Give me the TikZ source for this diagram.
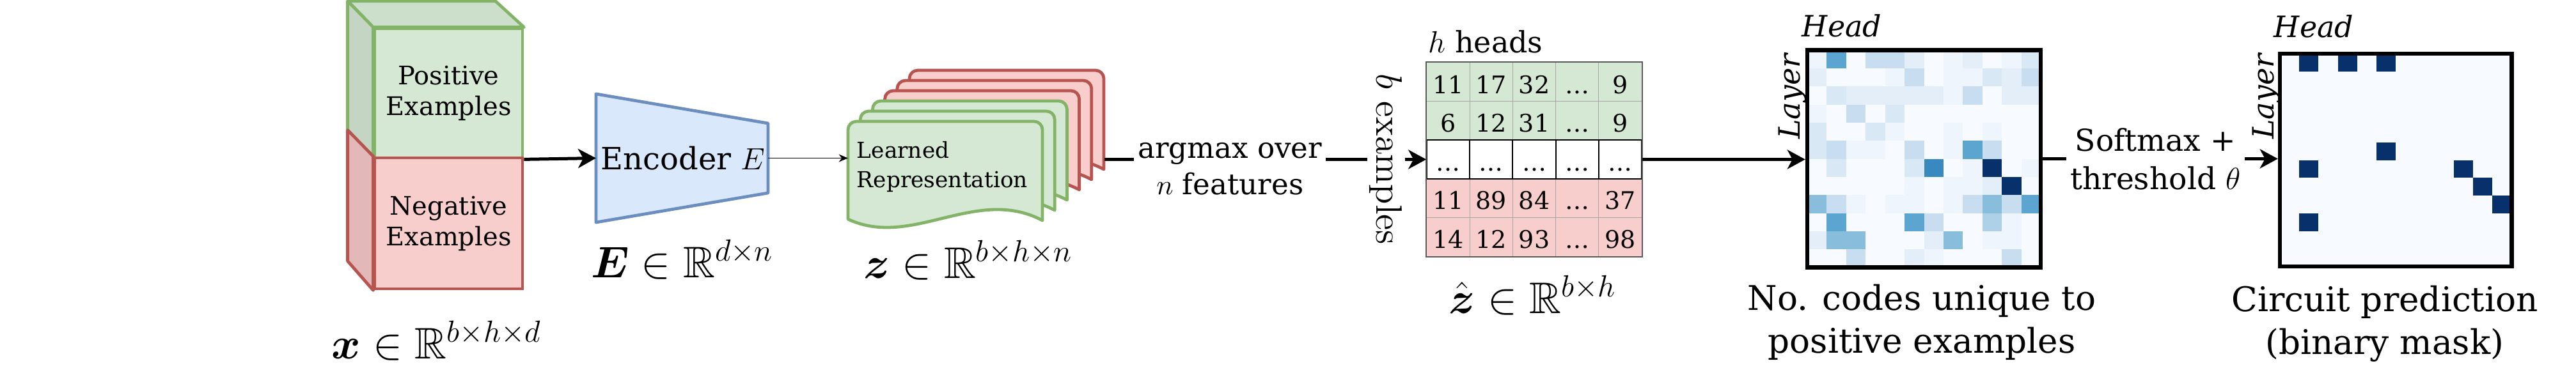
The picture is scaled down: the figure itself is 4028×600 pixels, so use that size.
\documentclass[tikz,border=0pt]{standalone}
\usepackage{amsmath,amssymb}
\usepackage{fontspec}
\usetikzlibrary{arrows.meta, positioning}
\newfontfamily\dvs{DejaVu Serif}
\definecolor{gfill}{HTML}{D5E8D4}
\definecolor{gdraw}{HTML}{82B366}
\definecolor{gside}{HTML}{C4D6C3}
\definecolor{gtop}{HTML}{CCDFCB}
\definecolor{rfill}{HTML}{F8CECC}
\definecolor{rdraw}{HTML}{B85450}
\definecolor{rside}{HTML}{E2B9B8}
\definecolor{efill}{HTML}{DAE8FC}
\definecolor{edraw}{HTML}{6C8EBF}
% Blues levels for the heat map
\definecolor{hb0}{HTML}{F7FBFF}
\definecolor{hb1}{HTML}{EEF5FC}
\definecolor{hb2}{HTML}{E3EEF9}
\definecolor{hb3}{HTML}{D9E8F5}
\definecolor{hb4}{HTML}{C9DDF0}
\definecolor{hb5}{HTML}{AED1E7}
\definecolor{hb6}{HTML}{88BEDC}
\definecolor{hb7}{HTML}{5DA5D1}
\definecolor{hb8}{HTML}{3989C1}
\definecolor{hb9}{HTML}{08306B}
\tikzset{
  face/.style = {rectangle, line width=1.2pt, inner sep=0pt, align=center,
    font=\dvs\fontsize{10}{12}\selectfont},
  sideface/.style = {line width=1.2pt, line join=round},
  card/.style = {line width=1.2pt, line join=round},
  thickline/.style = {line width=1.25pt},
  thickarrow/.style = {line width=1.25pt,
    -{Stealth[length=7pt, width=7.5pt, inset=2pt]}},
  thinarrow/.style = {line width=0.3pt, -{Stealth[length=3.6pt, width=3pt]}},
  mathlbl/.style = {anchor=base, inner sep=0pt,
    font=\fontsize{17.28}{20}\selectfont},
  edgetxt/.style = {fill=white, inner sep=1.5pt, align=center,
    font=\dvs\fontsize{11.3}{14.25}\selectfont},
  celltxt/.style = {anchor=base, inner sep=0pt,
    font=\dvs\fontsize{9.5}{11}\selectfont},
  gridline/.style = {draw=black!35, line width=0.3pt},
  mapbox/.style = {draw, line width=1.6pt, inner sep=0pt},
  italbl/.style = {anchor=base, inner sep=0pt,
    font=\dvs\itshape\fontsize{11.5}{13}\selectfont},
  bottxt/.style = {align=center, inner sep=0pt,
    font=\dvs\fontsize{13.3}{16.75}\selectfont}
}
\begin{document}
\begin{tikzpicture}[x=0.25pt, y=-0.25pt]
  \useasboundingbox (0,0) rectangle (4028,600);

  % input cube
  \node (pos) [face, fill=gfill, draw=gdraw, minimum width=57.75pt,
    minimum height=50.5pt] at (701.5,146) {Positive\\Examples};
  \node (neg) [face, fill=rfill, draw=rdraw, minimum width=57.75pt,
    minimum height=51.25pt] at (701.5,349.5) {Negative\\Examples};
  \filldraw[sideface, fill=gtop, draw=gdraw] (pos.north west) -- ++(-40,-41)
    -- ++(231,0) -- (pos.north east) -- cycle;
  \filldraw[sideface, fill=gside, draw=gdraw] (pos.north west) -- ++(-40,-41)
    -- ++(0,202) -- (pos.south west) -- cycle;
  \filldraw[sideface, fill=rside, draw=rdraw] (neg.north west) -- ++(-40,-41)
    -- ++(0,205) -- (neg.south west) -- cycle;
  \node (xlbl) [mathlbl] at (683,561)
    {$\boldsymbol{x} \in \mathbb{R}^{b\times h\times d}$};

  % encoder
  \filldraw[line width=1.2pt, fill=efill, draw=edraw, line join=round]
    (932,147) -- (1201,193) -- (1201,302) -- (932,348) -- cycle;
  \node (enc) [font=\dvs\fontsize{12}{14}\selectfont] at (1068,247.5)
    {Encoder $E$};
  \coordinate (encIn) at (932,247.5);
  \coordinate (encOut) at (1201,247.5);
  \node (elbl) [mathlbl] at (1067,434)
    {$\boldsymbol{E} \in \mathbb{R}^{d\times n}$};

  % stack of learned representations
  \foreach \i/\f/\d in {5/rfill/rdraw, 4/rfill/rdraw, 3/rfill/rdraw,
      2/gfill/gdraw, 1/gfill/gdraw, 0/gfill/gdraw} {
    \begin{scope}[shift={(1326+\i*19.2,190-\i*16)}]
      \filldraw[card, fill=\f, draw=\d] (0,153) -- (0,13)
        arc[start angle=180, end angle=270, radius=13] -- (291,0)
        arc[start angle=270, end angle=360, radius=13] -- (304,155)
        .. controls (200,100) and (100,200) .. (0,153) -- cycle;
    \end{scope}
  }
  \node (rep) [anchor=west, inner sep=0pt, align=left,
    font=\dvs\fontsize{8.6}{11.5}\selectfont] at (1339,261)
    {Learned\\Representation};
  \coordinate (repIn) at (1326,247.5);
  \coordinate (repOut) at (1727,249.5);
  \node (zlbl) [mathlbl] at (1514,435)
    {$\boldsymbol{z} \in \mathbb{R}^{b\times h\times n}$};

  % argmax table
  \node (mat) [rectangle, inner sep=0pt, minimum width=84pt,
    minimum height=75.75pt] at (2399,249.5) {};
  \fill[gfill] (2231,98) rectangle (2567,219.2);
  \fill[rfill] (2231,279.8) rectangle (2567,401);
  \foreach \x in {2298.2,2365.4,2432.6,2499.8} {
    \draw[gridline] (\x,98) -- (\x,219.2);
    \draw[gridline] (\x,279.8) -- (\x,401);
    \draw[line width=0.5pt] (\x,219.2) -- (\x,279.8);
  }
  \draw[gridline] (2231,158.6) -- (2567,158.6);
  \draw[gridline] (2231,340.4) -- (2567,340.4);
  \draw[line width=0.5pt] (2231,219.2) rectangle (2567,279.8);
  \draw[draw=black!65, line width=0.4pt] (mat.north west) rectangle (mat.south east);
  \foreach \y/\row in {146/{11,17,32,\ldots,9}, 206.6/{6,12,31,\ldots,9},
      267.2/{\ldots,\ldots,\ldots,\ldots,\ldots}, 327.8/{11,89,84,\ldots,37},
      388.4/{14,12,93,\ldots,98}} {
    \foreach \v [count=\c from 0] in \row
      \node [celltxt] at ({2264.6+\c*67.2},\y) {\v};
  }
  \node (heads) [anchor=base, inner sep=0pt,
    font=\dvs\fontsize{11.5}{14}\selectfont] at (2323,82) {$h$ heads};
  \node (zhlbl) [mathlbl] at (2397,490)
    {$\hat{\boldsymbol{z}} \in \mathbb{R}^{b\times h}$};

  % heat map of codes unique to positive examples
  \foreach \row [count=\r from 0] in {
      {1,7,0,4,4,2,0,1,2,0,1,3}, {2,0,0,0,1,4,0,1,1,3,2,4},
      {0,3,2,2,2,2,2,1,4,0,2,2}, {1,0,4,0,3,0,0,0,0,0,0,0},
      {3,0,0,3,1,0,0,1,0,1,0,0}, {3,4,1,1,0,4,0,1,7,4,0,0},
      {0,3,0,0,0,3,8,0,1,9,0,1}, {0,0,0,0,0,1,0,1,1,2,9,0},
      {6,4,1,0,1,1,0,1,4,6,4,7}, {0,7,0,0,0,7,4,0,0,5,1,0},
      {2,6,6,0,0,0,2,6,0,1,1,0}, {0,0,4,0,0,2,1,0,0,0,4,0}} {
    \foreach \v [count=\c from 0] in \row
      \fill[hb\v] ({2826+\c*30.417},{78.5+\r*28.333})
        rectangle ++(30.6,28.5);
  }
  \node (heat) [mapbox, minimum width=91.25pt, minimum height=85pt]
    at (3008.5,248.5) {};
  \node (head1) [italbl] at (2880,57) {Head};
  \node (layer1) [italbl, rotate=90] at (2814,151) {Layer};
  \node (hlbl) [bottxt] at (3005,504) {No. codes unique to\\positive examples};

  % predicted circuit mask
  \fill[hb0] (3565,84) rectangle (3927.5,417);
  \foreach \r/\c in {0/1, 0/3, 0/5, 5/5, 6/1, 6/9, 7/10, 8/11, 9/1}
    \fill[hb9] ({3565+\c*30.21},{84+\r*27.75}) rectangle ++(30.21,27.75);
  \node (mask) [mapbox, minimum width=90.625pt, minimum height=83.25pt]
    at (3746.25,250.5) {};
  \node (head2) [italbl] at (3618,58) {Head};
  \node (layer2) [italbl, rotate=90] at (3555,151) {Layer};
  \node (mlbl) [bottxt] at (3729,507) {Circuit prediction\\(binary mask)};

  % connectors
  \draw[thickarrow] (pos.south east) -- (encIn);
  \draw[thinarrow] (encOut) -- (repIn);
  \draw[thickarrow] (repOut) -- (mat.west)
    node [edgetxt, pos=0.39, yshift=-3.75pt] {argmax over\\$n$ features}
    node [pos=0.875, rotate=-90, fill=white, inner sep=1pt,
      font=\fontsize{14.4}{16}\selectfont] {$b$ examples};
  \draw[thickarrow] (mat.east) -- (mat.east -| heat.west);
  \draw[thickarrow] (heat.east) -- (heat.east -| mask.west)
    node [edgetxt, pos=0.479, font=\dvs\fontsize{11.8}{15}\selectfont]
    {Softmax +\\threshold $\theta$};
\end{tikzpicture}
\end{document}
